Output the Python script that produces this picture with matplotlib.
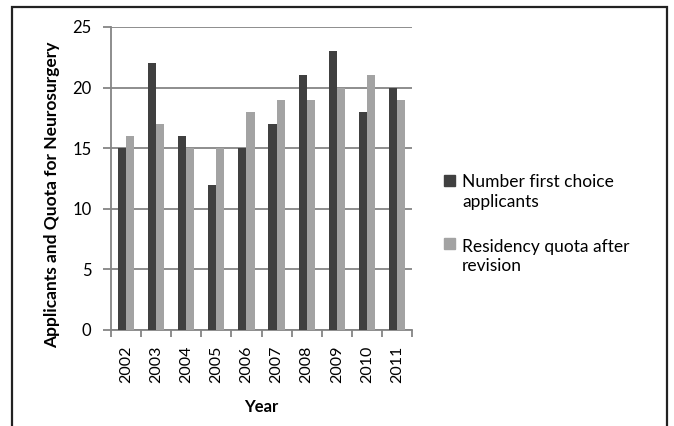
import matplotlib.pyplot as plt
import numpy as np
from matplotlib.patches import Rectangle

years = ["2002", "2003", "2004", "2005", "2006", "2007", "2008", "2009", "2010", "2011"]
first_choice = [15, 22, 16, 12, 15, 17, 21, 23, 18, 20]
quota = [16, 17, 15, 15, 18, 19, 19, 20, 21, 19]
series_labels = ["Number first choice\napplicants", "Residency quota after\nrevision"]
series_colors = ['#404040', '#a3a3a3']

plt.rcParams['font.family'] = ['Lato', 'DejaVu Sans']

W, H = 674, 426
fig = plt.figure(figsize=(W / 100, H / 100), dpi=100)
fig.patch.set_facecolor('white')
ax = fig.add_axes([111 / W, 1 - 330 / H, 301 / W, 303 / H])

x = np.arange(len(years))
w = 0.27
ax.bar(x - w / 2, first_choice, w, color=series_colors[0], zorder=3)
ax.bar(x + w / 2, quota, w, color=series_colors[1], zorder=3)

ax.set_xlim(-0.5, len(years) - 0.5)
ax.set_ylim(0, 25)
ax.set_yticks([0, 5, 10, 15, 20, 25])
ax.yaxis.grid(True, color='#858585', linewidth=1.3, zorder=0)

ax.set_xticks(x)
ax.set_xticklabels(years, rotation=90, fontsize=11.5)
ax.set_xticks(np.arange(-0.5, len(years)), minor=True)
ax.tick_params(axis='x', which='major', length=0, pad=11)
ax.tick_params(axis='x', which='minor', length=5, color='#858585', width=1.3)
ax.tick_params(axis='y', length=6, color='#858585', width=1.3, labelsize=12, pad=8)

for s in ['top', 'right']:
    ax.spines[s].set_visible(False)
for s in ['left', 'bottom']:
    ax.spines[s].set_color('#858585')
    ax.spines[s].set_linewidth(1.3)

ax.set_ylabel('Applicants and Quota for Neurosurgery', fontsize=12.5, weight='bold', va='center')
ax.yaxis.set_label_coords(-0.196, 0.446)
ax.set_xlabel('Year', fontsize=12, weight='bold', va='center')
ax.xaxis.set_label_coords(0.5, -0.254)

# legend: small squares with two-line labels
for (sq_top, text_mid), label, color in zip([(175, 192), (238, 256.5)], series_labels, series_colors):
    fig.add_artist(Rectangle((444 / W, 1 - (sq_top + 11) / H), 11 / W, 11 / H,
                             transform=fig.transFigure, color=color))
    fig.text(462 / W, 1 - text_mid / H, label, fontsize=12.5, va='center', ha='left',
             linespacing=1.25)

# outer frame
fig.add_artist(Rectangle((12 / W, -0.05), 655 / W, 1.05 - 7 / H, transform=fig.transFigure,
                         fill=False, edgecolor='#222222', linewidth=1.6))

plt.savefig('out.png', dpi=100)
plt.close()
